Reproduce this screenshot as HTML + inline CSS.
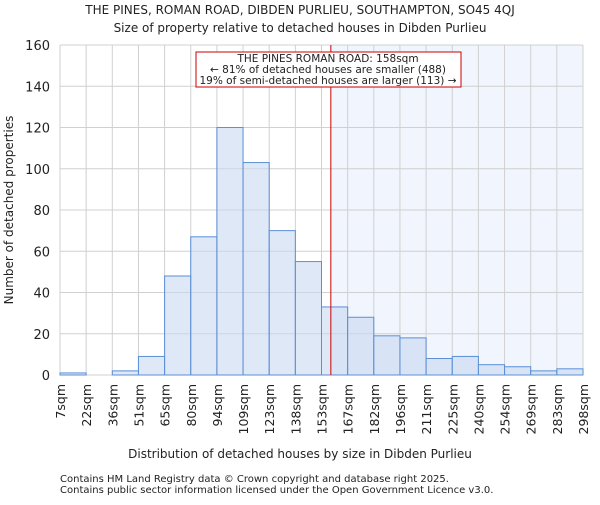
<!DOCTYPE html>
<html><head><meta charset="utf-8"><style>
body{margin:0;background:#fff;font-family:"Liberation Sans","DejaVu Sans",sans-serif;}
svg text{font-family:"DejaVu Sans","Liberation Sans",sans-serif;fill:#222;}
</style></head><body>
<svg id="c" width="600" height="500" xmlns="http://www.w3.org/2000/svg">
<text x="300" y="14" text-anchor="middle" font-size="12">THE PINES, ROMAN ROAD, DIBDEN PURLIEU, SOUTHAMPTON, SO45 4QJ</text>
<text x="300" y="32" text-anchor="middle" font-size="12">Size of property relative to detached houses in Dibden Purlieu</text>
<g id="plot"></g>
<text x="300" y="458" text-anchor="middle" font-size="12">Distribution of detached houses by size in Dibden Purlieu</text>
<text transform="translate(13,210) rotate(-90)" text-anchor="middle" font-size="12">Number of detached properties</text>
<text x="60" y="482" font-size="10" fill="#444">Contains HM Land Registry data © Crown copyright and database right 2025.</text>
<text x="60" y="493" font-size="10" fill="#444">Contains public sector information licensed under the Open Government Licence v3.0.</text>
</svg>
<script>
const categories=["7sqm","22sqm","36sqm","51sqm","65sqm","80sqm","94sqm","109sqm","123sqm","138sqm","153sqm","167sqm","182sqm","196sqm","211sqm","225sqm","240sqm","254sqm","269sqm","283sqm","298sqm"];
const counts=[1,0,2,9,48,67,120,103,70,55,33,28,19,18,8,9,5,4,2,3];
const yTicks=[0,20,40,60,80,100,120,140,160];
const binStart=[7,22,36,51,65,80,94,109,123,138,153,167,182,196,211,225,240,254,269,283,298];
const markerValue=158;
const X0=60,X1=583,Y0=375,Y1=45,YMAX=160;
const n=counts.length,bw=(X1-X0)/n;
const xi=i=>X0+i*bw;
const y=v=>Y0-(v/YMAX)*(Y0-Y1);
function xv(v){for(let i=0;i<n;i++){if(v<=binStart[i+1])return xi(i)+(v-binStart[i])/(binStart[i+1]-binStart[i])*bw;}return X1;}
const NS="http://www.w3.org/2000/svg",g=document.getElementById('plot');
function mk(t,a,p){const e=document.createElementNS(NS,t);for(const k in a)e.setAttribute(k,a[k]);(p||g).appendChild(e);return e;}
const mx=xv(markerValue);
let e=mk('rect',{x:mx,y:Y1,width:X1-mx,height:Y0-Y1,fill:'#f1f5fd'});


for(let i=0;i<=n;i++){e=mk('line',{x1:xi(i),x2:xi(i),y1:Y1,y2:Y0,stroke:'#d0d0d0'});

}
yTicks.forEach(t=>{e=mk('line',{x1:X0,x2:X1,y1:y(t),y2:y(t),stroke:'#d0d0d0'});


e=mk('text',{x:X0-10,y:y(t)+5,'text-anchor':'end','font-size':13});e.textContent=t;

});
counts.forEach((c,i)=>{e=mk('rect',{x:xi(i),y:y(c),width:bw,height:Y0-y(c),fill:'rgba(200,216,240,0.6)',stroke:'#5b8fd6','stroke-width':1});

});
categories.forEach((c,i)=>{const x=xi(i);e=mk('text',{transform:`translate(${x+5},384) rotate(-90)`,'text-anchor':'end','font-size':12.5});e.textContent=c;

});
e=mk('line',{x1:mx,x2:mx,y1:Y1,y2:Y0,stroke:'#cc0000','stroke-width':1});


const ag=mk('g',{});


mk('rect',{x:196,y:52,width:265,height:35,fill:'#fff',stroke:'#cc0000'},ag);
[["THE PINES ROMAN ROAD: 158sqm",62],["← 81% of detached houses are smaller (488)",73],["19% of semi-detached houses are larger (113) →",84]].forEach(([t,yy])=>{const tx=mk('text',{x:328,y:yy,'text-anchor':'middle','font-size':10.5},ag);tx.textContent=t;});
</script>
</body></html>
